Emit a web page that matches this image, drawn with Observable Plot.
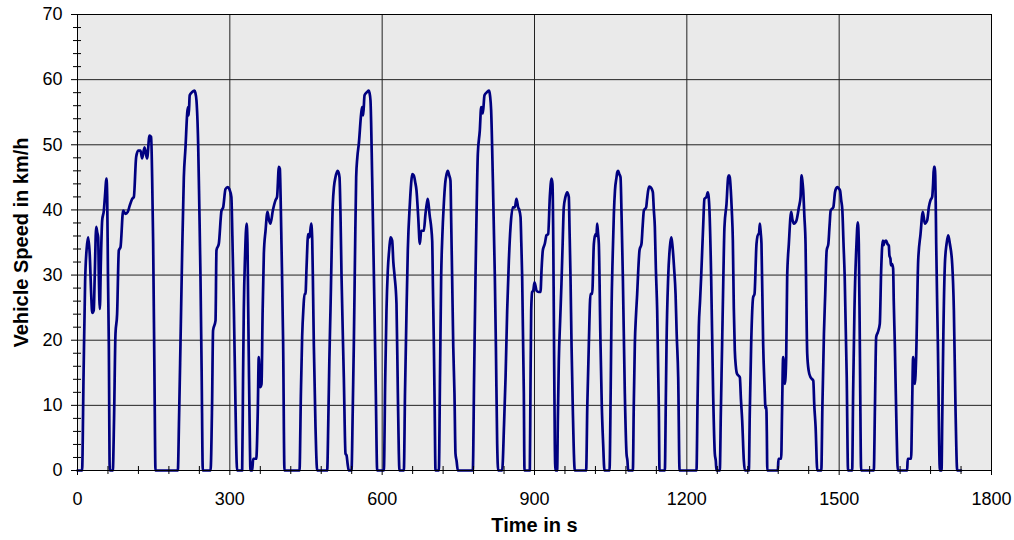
<!DOCTYPE html>
<html>
<head>
<meta charset="utf-8">
<script src="https://cdn.jsdelivr.net/npm/d3@7"></script>
<script src="https://cdn.jsdelivr.net/npm/@observablehq/plot@0.6"></script>
<style>
  html, body { margin: 0; padding: 0; background: #ffffff; }
  #chart svg { display: block; }
</style>
</head>
<body>
<div id="chart"></div>
<script>
// Time in s
const timeS = [
  0, 9, 12, 15, 18, 21, 24, 27, 29, 32, 34, 36.8, 39, 40.7, 42, 44, 46, 48.6, 51.9, 54, 57.1, 58.5, 60, 61.7, 63.5, 69.5,
  72, 74.8, 78, 81.4, 84.7, 89.9, 94.5, 99, 103, 107.7, 111, 115.5, 119.5, 124, 127.3, 132, 137, 141.8, 145, 147, 149, 151.6, 153.6,
  197.6, 200, 202.8, 206, 209.4, 212.7, 216, 217.5, 219, 221, 225.8, 230.4, 232, 234.3, 237.6, 240, 242.2, 244.5, 246.8,
  262, 265, 267, 271.8, 273.7, 278.3, 283.6, 286.9, 291.4, 296, 299, 303, 305, 308, 310.5, 312.5, 314.4,
  324.3, 326, 327.5, 330, 333, 334.8, 336, 337.4, 339, 340.7, 344,
  346, 352, 355, 357, 359.7, 362.4, 364.5, 367, 370.3, 374.2, 377, 380, 384.7, 390, 393, 396.6, 398.5, 400, 401.7, 405, 407.6,
  437.2, 440, 442.4, 445, 447, 449, 451, 454.2, 457, 460.2, 462.3, 464, 465.4, 468.7, 470, 472,
  491.7, 494, 496, 498.2, 502.8, 505, 508, 512, 514, 516, 518, 520, 524.5, 527.8, 530, 532, 534.3,
  539.6, 542, 544.2, 546.5, 548.8, 551, 554.1, 558.7, 560.6, 562.6, 565.3, 570.3, 573.7, 575, 577, 580.3, 584.9, 587.5, 590.2,
  603.3, 606, 608.5, 611.1, 614, 616.4, 619.7, 622, 624.3, 628.2, 630.9, 634.1,
  642.7, 645, 648, 650.5, 654.5, 657, 659.2, 662.3, 665, 667.6, 671, 674.2, 676.8, 682, 685.3, 688, 690, 693.2, 698.5, 700, 701.8, 703.5, 705,
  711.6, 714, 716.2, 718.5, 721.4, 724, 726.9, 729.3, 732, 734.5, 736, 737.8, 740, 742.4, 744.4, 746.5, 749,
  778.5, 781, 783.8, 786, 788.4, 792.3, 795, 798.2, 801.5, 806.7, 810.7, 812.5, 814.6, 817.9, 821.9, 824, 826.5, 828.5,
  836.3, 840, 843, 846.2, 849.5, 852.8, 857.3, 861.3, 864.5, 867.8, 870, 872.5, 874, 875.7, 879, 880.3,
  890.8, 892, 893.5, 895.4, 897.5, 900, 902, 904, 908, 911.8, 914, 916.4, 920.3, 923.6, 926.9, 930.2, 933.5, 935.4, 937, 938, 940, 941.3,
  944.6, 946, 947.9, 950.5, 953.1, 955.5, 957.7, 961, 964.3, 967.6, 969, 970.9, 973, 975.5, 979.4,
  1001.7, 1004, 1007, 1010.3, 1013.6, 1016.9, 1020.1, 1022, 1023.4, 1025, 1026.7, 1030, 1032.5, 1035.2, 1037.8,
  1047.7, 1050, 1051.7, 1054, 1056.3, 1058.5, 1061.5, 1063, 1064.8, 1067, 1069.4, 1071.5, 1074, 1077.9, 1081.2, 1083, 1084.5,
  1093.7, 1095.5, 1097.6, 1100, 1102.2, 1104.5, 1106.8, 1110.7, 1113, 1115.4, 1119.9, 1121.5, 1123.9, 1126, 1128.5, 1131, 1133.1, 1135, 1137, 1139, 1141.6, 1144.9, 1146.2,
  1156.7, 1158.5, 1160, 1163.3, 1166.6, 1169.2, 1170.5, 1172.5, 1175, 1177.8, 1180, 1183, 1185.7,
  1219, 1221, 1223.6, 1226, 1228.2, 1232.1, 1234.7, 1238.7, 1241.3, 1243, 1244.6, 1247.9, 1251.8, 1255.1, 1257, 1258.4,
  1264.9, 1267, 1269.5, 1272, 1274.1, 1278.1, 1281.4, 1283, 1284.6, 1286.6, 1288.5, 1290.6, 1292.5, 1294.5, 1296.5, 1299.1, 1304.4, 1306.5, 1309, 1312.3, 1314.2,
  1322.1, 1324, 1326.7, 1330.6, 1333.3, 1337.2, 1340.5, 1342, 1343.8, 1345.5, 1347, 1350.3, 1353, 1355, 1356.5, 1357.5, 1358.5,
  1379.2, 1380.5, 1385.8, 1387.5, 1389.7, 1393, 1395.7, 1397.6, 1400.9, 1405.5, 1408, 1410.8, 1413, 1416, 1420.7, 1424, 1425.9, 1427.5, 1429.2, 1431.5, 1433.8, 1435.5, 1437.1, 1440, 1443.7, 1449, 1451, 1453.6, 1456.9,
  1464.8, 1467, 1470, 1472.5, 1475.4, 1478.7, 1481, 1483.3, 1488.5, 1491.8, 1494, 1496.5, 1499, 1501.7, 1504, 1506.3, 1508.5, 1510.9, 1514.9, 1517.5,
  1525.6, 1527.5, 1530.1, 1534.1, 1536.7, 1538.7, 1540.7, 1543.3,
  1568.2, 1570.5, 1572.9, 1576.1, 1580, 1582.7, 1585.9, 1587.5, 1589.2, 1592.5, 1595, 1597.8, 1599, 1601, 1602, 1604.3, 1606.3, 1607.5, 1609.6, 1612.9, 1615.5,
  1633.9, 1635, 1641.7, 1643.5, 1645.7, 1649, 1651.6, 1655.6, 1660.2, 1664.8, 1668.7, 1673.4, 1676.6, 1679.9, 1683.2, 1685, 1686.5, 1688.5, 1690, 1691.1, 1694.4, 1698.4,
  1701.6, 1703, 1704.9, 1708.2, 1711.5, 1714.8, 1718, 1722.6, 1725.9, 1729.2, 1732.5, 1740
];

// Vehicle speed in km/h
const speedKmh = [
  0, 0, 15, 29, 34, 35.8, 33.3, 27, 24.2, 24.6, 30, 37.4, 36.5, 35.8, 30, 24.8, 32, 38.4, 39.9, 42, 44.8, 42, 30, 19.4, 0, 0,
  8, 21, 24, 33.8, 34.3, 39.9, 39.4, 39.7, 40.7, 41.7, 42, 48.1, 49.1, 49.1, 47.9, 49.6, 47.9, 51.4, 51.2, 45, 34.8, 14.3, 0,
  0, 8, 19.4, 33, 45, 49.6, 54.8, 55.8, 54.5, 57.6, 58.1, 58.3, 58, 56.8, 50.2, 40, 29.7, 15, 0,
  0, 10, 21.5, 23, 33.8, 34.8, 39.9, 40.4, 43.2, 43.5, 43.2, 42, 36, 24.6, 13, 4, 0,
  0, 14, 24.6, 33, 37.9, 34.8, 26, 16.9, 7, 0, 0,
  1.8, 1.8, 9, 17.4, 12.8, 13.3, 24, 33.3, 36.8, 39.7, 38.5, 37.9, 39.9, 41.5, 42, 46.6, 46.3, 42, 34.8, 19.4, 0,
  0, 12, 20.5, 25, 27.1, 27.1, 31, 36.3, 35.8, 37.9, 35.3, 27, 19.4, 6.7, 3, 0,
  0, 8, 17, 24.6, 40.9, 43.5, 45, 46, 45.8, 45, 39, 29.7, 14.3, 2.6, 2.3, 1, 0,
  0, 9, 19.4, 33, 45, 48, 50.2, 54.8, 55.8, 54.5, 57.6, 58.1, 58.3, 58, 56.8, 45, 24.6, 12, 0,
  0, 14, 24.6, 30.7, 34, 35.8, 35.3, 32, 30, 25.6, 11.8, 0,
  0, 12, 24.6, 33.8, 40.9, 44, 45.5, 45.3, 44.3, 43, 38.9, 34.8, 36.8, 36.8, 39.4, 41, 41.7, 39.4, 35.3, 28, 19.4, 9, 0,
  0, 15, 29.7, 36, 40.9, 44, 45.5, 46, 45.3, 44.5, 38, 29.7, 19, 11.8, 2.6, 1.5, 0,
  0, 14, 29.7, 40, 48.6, 52.2, 55.8, 54.8, 57.6, 58.1, 58.3, 57.5, 55.3, 45, 29.7, 19, 4.1, 0,
  0, 7, 14.3, 24.6, 32.2, 37.4, 40.4, 40.4, 41.7, 40.4, 40, 38.9, 35, 29.7, 11.8, 0,
  0, 12, 24.6, 27.4, 27.6, 28.9, 28.3, 27.6, 27.4, 27.4, 31, 33.8, 34.8, 36.1, 36.3, 42, 44.8, 44, 35, 24.6, 4.1, 0,
  0, 8, 16.9, 23, 28.7, 35, 40.4, 42, 42.7, 42, 37, 29.7, 19, 9.2, 0,
  0, 10, 19.4, 27.1, 27.1, 34.8, 36.3, 36, 37.9, 36.5, 34.8, 19.4, 10, 4.1, 0,
  0, 12, 24.6, 33, 39.4, 43, 45, 45.8, 46, 45.5, 45, 39, 29.7, 11.8, 2.6, 1.5, 0,
  0, 10, 19.4, 24, 27.1, 31, 33.8, 34.8, 37.5, 39.9, 40.4, 41.5, 43, 43.6, 43.5, 43.2, 42.7, 40, 37.4, 31, 24.6, 9.2, 0,
  0, 10, 19.4, 29.7, 34.3, 35.8, 35.3, 33.8, 31, 27.1, 21, 14.3, 0,
  0, 10, 22, 26, 29.7, 37.4, 41.7, 42, 42.7, 42, 39.9, 29.7, 11.8, 2.6, 1.5, 0,
  0, 9, 19.4, 30, 37.4, 40.9, 45, 45.3, 45, 43, 40, 35.3, 25, 18.4, 16, 14.8, 14.3, 11, 7.7, 1.5, 0,
  0, 9, 19.4, 26.6, 27.1, 34.8, 36.3, 36.3, 37.9, 36.5, 34.8, 19.4, 13, 9.5, 9.8, 6, 0,
  0, 1.8, 1.8, 9, 17.4, 13.3, 17.4, 29.7, 34.8, 39.7, 38.5, 37.9, 38, 38.4, 40.4, 42, 45.3, 44.5, 43, 39, 34.8, 25, 17.9, 15.3, 14.3, 13.8, 10, 6.7, 0,
  0, 10, 21, 27, 33.8, 34.8, 37.5, 39.9, 40.4, 42.7, 43.3, 43.5, 43.3, 43, 41.5, 39.9, 35, 29.7, 14.3, 0,
  0, 12, 24.6, 34.8, 38.1, 34.8, 19.4, 0,
  0, 10, 20.5, 21.2, 22.5, 30.7, 35.3, 34.6, 35.1, 35.3, 34.8, 34.5, 33, 32.5, 31.5, 31.7, 31, 26, 19.4, 6.7, 0,
  0, 1.8, 1.8, 9, 17.4, 13.3, 17.4, 32.2, 36.3, 39.7, 37.9, 38.4, 40.4, 41.5, 42, 44, 46.6, 46.6, 42, 34.8, 19.4, 0,
  0, 8, 19.4, 31.7, 34.8, 36.1, 34.8, 31.7, 24.6, 9.2, 0, 0
];

// Axis ticks
const xMajorTicks = [0, 300, 600, 900, 1200, 1500, 1800];
const xMinorTicks = [60, 120, 180, 240, 360, 420, 480, 540, 660, 720, 780, 840, 960, 1020, 1080, 1140, 1260, 1320, 1380, 1440, 1560, 1620, 1680, 1740];
const yMajorTicks = [0, 10, 20, 30, 40, 50, 60, 70];
const yMinorTicks = [2, 4, 6, 8, 12, 14, 16, 18, 22, 24, 26, 28, 32, 34, 36, 38, 42, 44, 46, 48, 52, 54, 56, 58, 62, 64, 66, 68];

const xTitle = "Time in s";
const yTitle = "Vehicle Speed in km/h";

const data = timeS.map((t, i) => ({t, v: speedKmh[i]}));

const chart = Plot.plot({
  width: 1014,
  height: 540,
  marginLeft: 77,
  marginRight: 23,
  marginTop: 14,
  marginBottom: 70,
  x: {domain: [0, 1800]},
  y: {domain: [0, 70]},
  style: {
    fontFamily: "'Liberation Sans', Arial, sans-serif",
    fontSize: "18px",
    color: "#000",
    background: "#ffffff",
    overflow: "visible"
  },
  marks: [
    Plot.frame({fill: "#eaeaea", stroke: null}),
    Plot.gridY(yMajorTicks, {stroke: "#222", strokeOpacity: 1, strokeWidth: 1}),
    Plot.gridX(xMajorTicks, {stroke: "#222", strokeOpacity: 1, strokeWidth: 1}),
    Plot.line(data, {x: "t", y: "v", stroke: "#000080", strokeWidth: 2.7, curve: "monotone-x", strokeLinejoin: "round"}),
    Plot.frame({stroke: "#000", strokeWidth: 1}),
    Plot.axisX(xMajorTicks, {tickSize: 5, tickPadding: 17, tickFormat: d => String(d), label: null, fontSize: 18, stroke: "#000"}),
    Plot.axisX(xMinorTicks, {tickSize: 8, dy: -4, text: null, label: null, stroke: "#000"}),
    Plot.axisY(yMajorTicks, {tickSize: 6, tickPadding: 9, tickFormat: d => String(d), label: null, fontSize: 18, stroke: "#000"}),
    Plot.axisY(yMinorTicks, {tickSize: 8, dx: 4, text: null, label: null, stroke: "#000"}),
    Plot.text([xTitle], {frameAnchor: "bottom", dy: 61, text: d => d, fontWeight: "bold", fontSize: 20, textAnchor: "middle"}),
    Plot.text([yTitle], {frameAnchor: "left", dx: -56, rotate: -90, text: d => d, fontWeight: "bold", fontSize: 20, textAnchor: "middle"})
  ]
});

document.getElementById("chart").appendChild(chart);
</script>
</body>
</html>
